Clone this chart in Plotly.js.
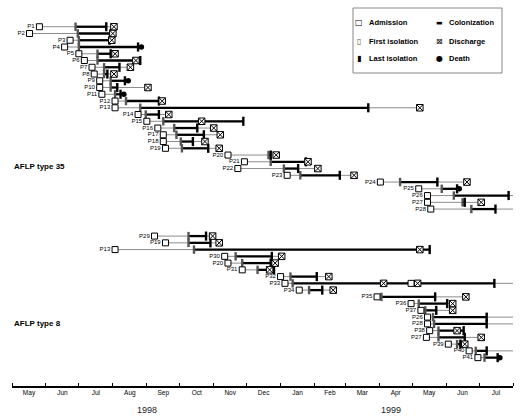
<!DOCTYPE html>
<html><head><meta charset="utf-8">
<script src="https://cdn.plot.ly/plotly-3.0.1.min.js"></script>
<style>html,body{margin:0;padding:0;background:#fff}#chart{width:523px;height:419px}</style>
</head><body><div id="chart"></div>
<script>
// ---- data (one entry per timeline row) ----
const patients = ['P1','P2','P3','P4','P5','P6','P7','P8','P9','P10','P11','P12','P13','P14','P15','P16','P17','P18','P19','P20','P21','P22','P23','P24','P25','P26','P27','P28',
  'P29','P19','P13','P30','P20','P31','P32','P33','P34','P35','P36','P37','P26','P28','P38','P27','P39','P40','P41'];
const rowIndex = [0,1,2,3,4,5,6,7,8,9,10,11,12,13,14,15,16,17,18,19,20,21,22,23,24,25,26,27,
  31,32,33,34,35,36,37,38,39,40,41,42,43,44,45,46,47,48,49];
const admission = ['1998-05-26','1998-05-17','1998-06-23','1998-06-18','1998-07-01','1998-07-06','1998-07-13','1998-07-15','1998-07-20','1998-07-20','1998-07-22','1998-08-03','1998-08-03','1998-08-24','1998-09-01','1998-09-11','1998-09-16','1998-09-16','1998-09-18','1998-11-14','1998-11-29','1998-11-23','1999-01-07','1999-04-02','1999-05-07','1999-05-15','1999-05-15','1999-05-18',
  '1998-09-08','1998-09-18','1998-08-03','1998-11-11','1998-11-14','1998-11-27','1999-01-01','1999-01-05','1999-01-18','1999-03-30','1999-04-30','1999-05-09','1999-05-15','1999-05-15','1999-05-17','1999-05-14','1999-06-03','1999-06-22','1999-06-30'];
const firstIsolation = ['1998-06-28','1998-06-30','1998-07-01','1998-07-01','1998-07-18','1998-07-18','1998-07-24','1998-07-24','1998-07-30','1998-07-30','1998-08-03','1998-08-13','1998-08-26','1998-08-31','1998-09-16','1998-09-26','1998-09-28','1998-10-02','1998-10-03','1998-12-21','1998-12-23','1999-01-04','1999-01-19','1999-04-20','1999-05-28','1999-06-08','1999-06-16','1999-06-24',
  '1998-10-09','1998-10-09','1998-10-14','1998-11-21','1998-11-27','1998-12-11','1999-01-10','1999-01-12','1999-01-27','1999-04-03','1999-05-07','1999-05-13','1999-05-20','1999-05-21','1999-05-25','1999-05-25','1999-06-11','1999-06-28','1999-07-06'];
const lastIsolation = ['1998-07-26','1998-07-30','1998-07-29','1998-08-24','1998-07-30','1998-08-26','1998-08-07','1998-07-27','1998-08-12','1998-08-05','1998-08-08','1998-09-12','1999-03-22','1998-09-12','1998-11-28','1998-10-17','1998-10-23','1998-10-13','1998-10-27','1998-12-23','1999-01-24','1999-01-17','1999-02-24','1999-05-24','1999-06-11','1999-07-28','1999-06-18','1999-07-16',
  '1998-10-25','1998-10-29','1999-05-17','1998-12-24','1998-12-23','1998-12-26','1999-02-03','1999-07-15','1999-02-08','1999-05-22','1999-06-02','1999-05-23','1999-07-08','1999-07-08','1999-06-17','1999-06-18','1999-06-14','1999-07-08','1999-07-18'];
const discharge = ['1998-08-02','1998-08-01','1998-07-31',null,'1998-08-03','1998-08-22','1998-08-17','1998-08-02',null,'1998-09-02',null,'1998-09-15','1999-05-08','1998-09-21','1998-10-21','1998-11-01','1998-11-07','1998-10-24','1998-11-06','1998-12-28','1999-01-26','1999-02-04','1999-03-09','1999-06-20',null,null,'1999-07-03',null,
  '1998-10-31','1998-11-06','1999-05-08','1999-01-02','1998-12-27','1998-12-22','1999-02-14','1999-04-05','1999-02-18','1999-06-19','1999-06-07','1999-06-07',null,null,'1999-06-11','1999-07-03','1999-06-18',null,null];
const death = [null,null,null,'1998-08-27',null,null,null,null,'1998-08-15',null,'1998-08-11',null,null,null,null,null,null,null,null,null,null,null,null,null,'1999-06-13',null,null,null,
  null,null,null,null,null,null,null,null,null,null,null,null,null,null,null,null,null,null,'1999-07-20'];
const stillInHospital = [null,null,null,null,null,null,null,null,null,null,null,null,null,null,null,null,null,null,null,null,null,null,null,null,null,'1999-08-01',null,'1999-08-01',
  null,null,null,null,null,null,null,'1999-08-01',null,null,null,null,'1999-08-01','1999-08-01',null,null,null,'1999-08-01',null];
const readmission = [null,null,null,null,null,null,null,null,null,null,null,null,null,null,null,null,null,null,null,null,null,null,null,null,null,null,null,null,
  null,null,null,null,null,null,null,'1999-04-30',null,null,null,null,null,null,null,null,null,null,null];
const secondDischarge = [null,null,null,null,null,null,null,null,null,null,null,null,null,null,null,null,null,null,null,null,null,null,null,null,null,null,null,null,
  null,null,null,null,null,null,null,'1999-05-06',null,null,null,null,null,null,null,null,null,null,null];
const groupLabels = ['AFLP type 35','AFLP type 8'];
const yearLabels = ['1998','1999'];
const yearDates = ['1998-09-01','1999-04-12'];
const legendSymbols = ['\u25A1','\u25AC','\u25AF','\u22A0','\u25AE','\u25CF'];
const legendLabels = ['Admission','Colonization','First isolation','Discharge','Last isolation','Death'];

// ---- build traces ----
function latest(arr){ return arr.filter(v=>v).sort().pop(); }
const thinX=[], thinY=[], thickX=[], thickY=[];
patients.forEach((p,i)=>{
  const end = stillInHospital[i] || latest([discharge[i], death[i], lastIsolation[i], secondDischarge[i]]);
  thinX.push(admission[i], end, null); thinY.push(rowIndex[i], rowIndex[i], null);
  thickX.push(firstIsolation[i], lastIsolation[i], null); thickY.push(rowIndex[i], rowIndex[i], null);
});
function pts(arr){ const x=[],y=[]; arr.forEach((v,i)=>{ if(v){x.push(v);y.push(rowIndex[i]);} }); return {x,y}; }
const dis = pts(discharge), dth = pts(death), rdm = pts(readmission), dis2 = pts(secondDischarge);

const traces = [
  {x:thinX, y:thinY, mode:'lines', line:{color:'#8c8c8c', width:1}, hoverinfo:'skip', showlegend:false},
  {x:thickX, y:thickY, mode:'lines', line:{color:'#000', width:2.3}, hoverinfo:'skip', showlegend:false},
  {x:firstIsolation, y:rowIndex, mode:'markers', cliponaxis:false, showlegend:false,
   marker:{symbol:'line-ns', size:6, line:{color:'#555', width:2.4}}},
  {x:lastIsolation, y:rowIndex, mode:'markers', cliponaxis:false, showlegend:false,
   marker:{symbol:'line-ns', size:6.5, line:{color:'#000', width:2.4}}},
  {x:dis.x.concat(dis2.x), y:dis.y.concat(dis2.y), mode:'markers', cliponaxis:false, showlegend:false,
   marker:{symbol:'square-x', size:6.5, color:'#fff', line:{color:'#000', width:1}}},
  {x:dth.x, y:dth.y, mode:'markers', cliponaxis:false, showlegend:false,
   marker:{symbol:'circle', size:5.5, color:'#000'}},
  {x:rdm.x, y:rdm.y, mode:'markers', cliponaxis:false, showlegend:false,
   marker:{symbol:'square', size:6, color:'#fff', line:{color:'#000', width:1}}},
  {x:admission, y:rowIndex, mode:'markers+text', text:patients, textposition:'middle left', cliponaxis:false, showlegend:false,
   textfont:{family:'Liberation Sans, Arial, sans-serif', size:6, color:'#000'},
   marker:{symbol:'square', size:6, color:'#fff', line:{color:'#000', width:1}}}
];

const ann = [];
const gY = [1-166/386, 1-323/386];
groupLabels.forEach((t,i)=>ann.push({text:t, xref:'paper', yref:'paper', x:0, y:gY[i], xanchor:'left', yanchor:'middle', showarrow:false,
  font:{family:'Liberation Sans, Arial, sans-serif', size:8, color:'#000', weight:'bold'}}));
yearLabels.forEach((t,i)=>ann.push({text:t, xref:'x', yref:'paper', x:yearDates[i], y:-24/386, xanchor:'center', yanchor:'middle', showarrow:false,
  font:{family:'Liberation Sans, Arial, sans-serif', size:9, color:'#222'}}));
const colSym = [(359-12)/501, (439-12)/501], colTxt = [(367-12)/501, (447-12)/501];
const rowPx = [23, 41, 59];
legendLabels.forEach((t,i)=>{
  const c = i%2, r = Math.floor(i/2);
  const y = 1-rowPx[r]/386;
  ann.push({text:legendSymbols[i], xref:'paper', yref:'paper', x:colSym[c], y:y, xanchor:'center', yanchor:'middle', showarrow:false,
    font:{family:'DejaVu Sans', size:(i===1?7:8), color:(i===2?'#555':'#000')}});
  ann.push({text:t, xref:'paper', yref:'paper', x:colTxt[c], y:y, xanchor:'left', yanchor:'middle', showarrow:false,
    font:{family:'Liberation Sans, Arial, sans-serif', size:7.5, color:'#000', weight:'bold'}});
});

const layout = {
  width:523, height:419, margin:{l:12, r:10, t:0, b:33},
  paper_bgcolor:'#fff', plot_bgcolor:'#fff', showlegend:false,
  xaxis:{type:'date', range:['1998-05-01','1999-08-01'], dtick:'M1', tick0:'1998-05-01', tickformat:'%b',
    ticklabelmode:'period', ticks:'inside', ticklen:3, tickwidth:1, tickcolor:'#000',
    showline:true, linecolor:'#000', linewidth:1.5, showgrid:false, zeroline:false,
    tickfont:{family:'Liberation Sans, Arial, sans-serif', size:6.5, color:'#000'}},
  yaxis:{range:[53.2,-3.96], visible:false, showgrid:false, zeroline:false},
  shapes:[{type:'rect', xref:'paper', yref:'paper', x0:(353-12)/501, x1:(502-12)/501, y0:1-73/386, y1:1-8/386,
    line:{color:'#888', width:1}, fillcolor:'rgba(0,0,0,0)'}],
  annotations:ann
};
Plotly.newPlot('chart', traces, layout, {displayModeBar:false, staticPlot:true});
</script></body></html>
